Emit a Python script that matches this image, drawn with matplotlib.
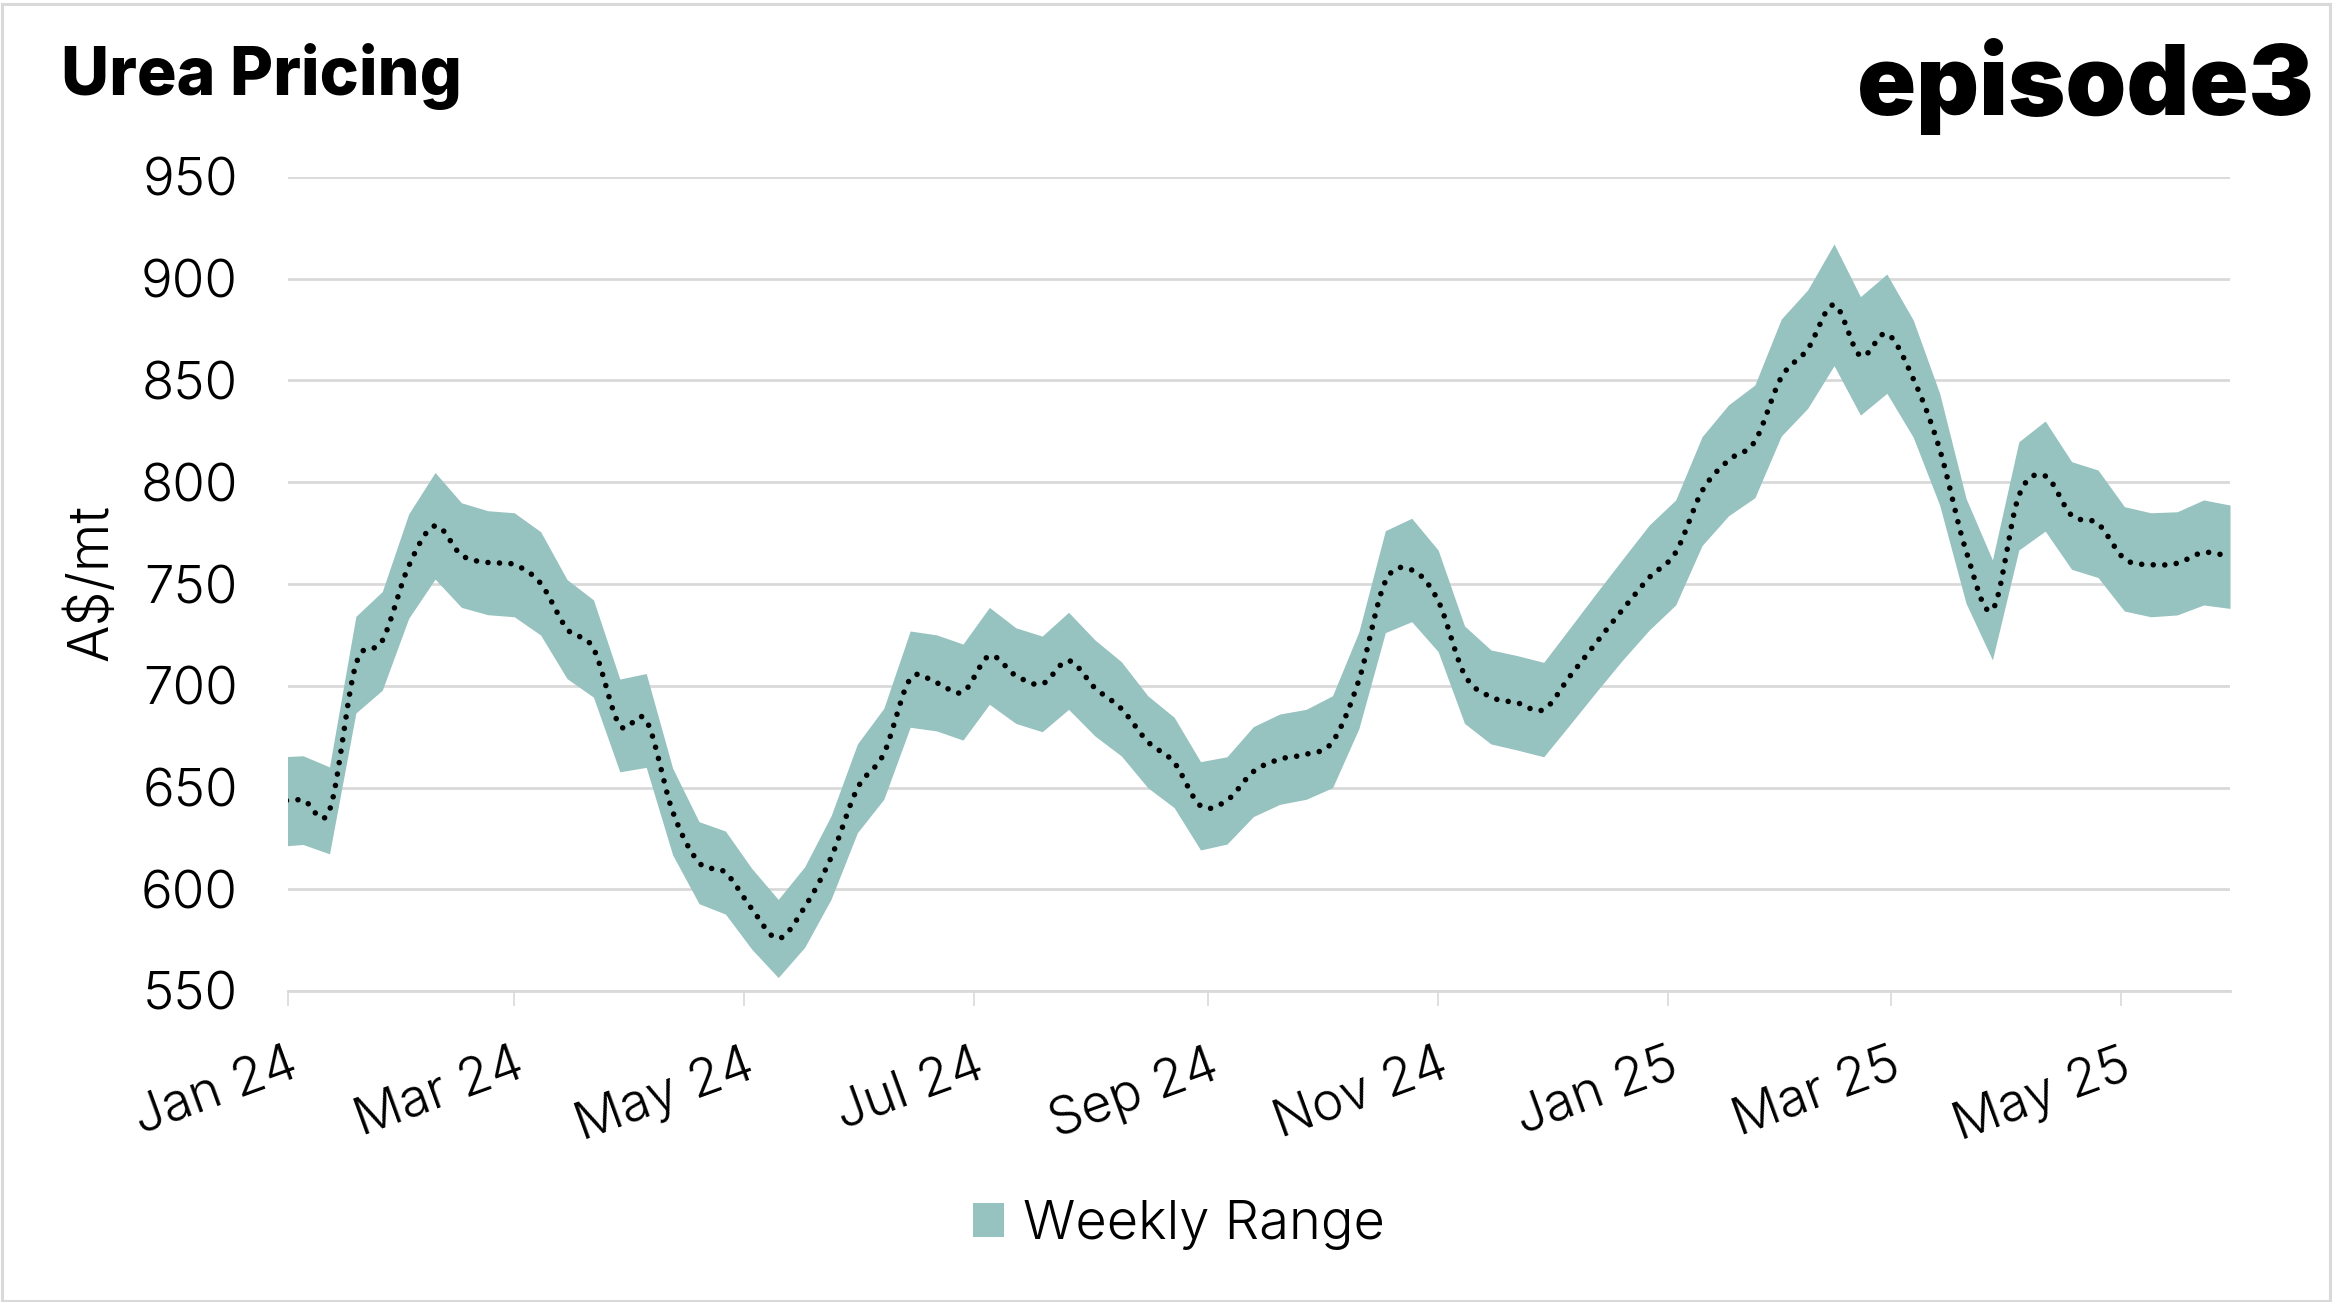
import matplotlib
matplotlib.use("Agg")
import matplotlib.pyplot as plt
import matplotlib.dates as mdates
from matplotlib.patches import Patch, Rectangle
import numpy as np
import pandas as pd

# ---------------- data (weekly, Fridays) ----------------
week_dates = pd.date_range("2023-12-29", periods=75, freq="7D")

range_high = [665, 665.6, 660.1, 734.1, 746.3, 784.4, 804.8, 789.9, 786.0, 785.0,
              775.7, 752.2, 742.2, 703.3, 706.0, 659.5, 633.2, 628.6, 610.2, 595.0,
              611.0, 636.0, 671.4, 688.9, 726.9, 725.0, 720.5, 738.5, 728.5, 724.4,
              736.1, 722.5, 711.8, 695.1, 684.5, 662.7, 665.1, 679.9, 686.1, 688.4,
              695.1, 726.6, 776.2, 782.3, 766.7, 729.4, 717.6, 714.8, 711.5, 728.5,
              745.6, 762.4, 779.0, 791.3, 822.4, 838.0, 847.8, 880.2, 894.5, 917.1,
              891.2, 902.3, 879.7, 843.7, 792.1, 761.8, 819.9, 830.1, 810.1, 806.0,
              788.0, 785.0, 785.5, 791.3, 788.8]

range_low = [621, 622.0, 617.4, 686.6, 697.8, 733.1, 752.4, 738.5, 734.9, 733.9,
             724.9, 703.5, 694.4, 657.7, 659.9, 616.9, 592.9, 587.8, 570.5, 556.6,
             571.4, 595.0, 627.8, 644.2, 679.6, 677.8, 673.3, 690.9, 681.5, 677.4,
             688.4, 675.3, 665.5, 649.9, 640.1, 619.3, 622.2, 635.7, 641.7, 644.2,
             649.9, 679.0, 726.1, 731.5, 716.8, 681.5, 671.4, 668.4, 665.1, 681.0,
             697.1, 712.8, 727.4, 739.7, 768.9, 783.5, 792.4, 822.7, 836.3, 857.3,
             833.0, 843.7, 822.1, 788.8, 740.5, 712.7, 766.7, 776.0, 757.2, 753.2,
             736.7, 733.9, 734.8, 739.7, 738.0]

average = [643.0, 643.8, 638.8, 710.4, 722.1, 758.8, 778.6, 764.2, 760.5, 759.5,
           750.3, 727.9, 718.3, 680.5, 683.0, 638.2, 613.1, 608.2, 590.4, 575.8,
           591.2, 615.5, 649.6, 666.6, 703.3, 701.4, 696.9, 714.7, 705.0, 700.9,
           712.3, 698.9, 688.7, 672.5, 662.3, 641.0, 643.7, 657.8, 663.9, 666.3,
           672.5, 702.8, 751.2, 756.9, 741.8, 705.5, 694.5, 691.6, 688.3, 704.8,
           721.4, 737.6, 753.2, 765.5, 795.7, 810.8, 820.1, 851.5, 865.4, 887.2,
           862.1, 873.0, 850.9, 816.3, 766.3, 737.3, 793.3, 803.1, 783.7, 779.6,
           762.4, 759.5, 760.2, 765.5, 763.4]

y_ticks = [550, 600, 650, 700, 750, 800, 850, 900, 950]
x_tick_dates = pd.date_range("2024-01-01", "2025-05-01", freq="2MS")

TEAL = "#96C2C0"
GRID = "#D9D9D9"
LIGHT = 300
FS = 38

plt.rcParams["font.family"] = ["Inter", "DejaVu Sans"]

fig = plt.figure(figsize=(23.42, 13.02), dpi=100)
W, H = 2342, 1302
ax = fig.add_axes([288 / W, 1 - 991 / H, (2230 - 288) / W, (991 - 177) / H])

xnum = mdates.date2num(week_dates.to_pydatetime())
ax.fill_between(xnum, range_low, range_high, color=TEAL, linewidth=0, zorder=2)


def smooth(x, y, n=16):
    P = np.column_stack([x, y]).astype(float)
    P = np.vstack([P[0], P, P[-1]])
    out = []
    t = np.linspace(0, 1, n, endpoint=False)[:, None]
    for i in range(1, len(P) - 2):
        p0, p1, p2, p3 = P[i - 1], P[i], P[i + 1], P[i + 2]
        c1 = p1 + (p2 - p0) / 6
        c2 = p2 - (p3 - p1) / 6
        seg = (1 - t) ** 3 * p1 + 3 * (1 - t) ** 2 * t * c1 + 3 * (1 - t) * t ** 2 * c2 + t ** 3 * p2
        out.append(seg)
    out.append(P[-2][None, :])
    out = np.vstack(out)
    return out[:, 0], out[:, 1]


sx, sy = smooth(xnum, average)
ax.plot(sx, sy, color="black", linewidth=4.0, linestyle=(0, (0.01, 2.07)),
        dash_capstyle="round", solid_capstyle="round", zorder=3)

ax.set_xlim(mdates.date2num(pd.Timestamp("2024-01-01")), mdates.date2num(pd.Timestamp("2025-05-30")))
ax.set_ylim(550, 950)
ax.set_yticks(y_ticks)
ax.set_yticklabels([str(v) for v in y_ticks])
ax.set_xticks(mdates.date2num(x_tick_dates.to_pydatetime()))
ax.set_xticklabels([d.strftime("%b %y") for d in x_tick_dates])

for s in ["top", "right", "left"]:
    ax.spines[s].set_visible(False)
ax.spines["bottom"].set_color(GRID)
ax.spines["bottom"].set_linewidth(2)
ax.spines["bottom"].set_zorder(1)
ax.grid(axis="y", color=GRID, linewidth=2, zorder=0)
ax.set_axisbelow(True)

ax.tick_params(axis="y", length=0, pad=36, labelsize=FS, labelcolor="black")
ax.tick_params(axis="x", length=11, width=1.2, color=GRID, pad=25, labelsize=FS,
               labelcolor="black")
for lab in ax.get_yticklabels():
    lab.set_fontweight(LIGHT)
for lab in ax.get_xticklabels():
    lab.set_rotation(20)
    lab.set_ha("right")
    lab.set_va("top")
    lab.set_rotation_mode("anchor")
    lab.set_fontweight(LIGHT)

fig.text(92 / W, 1 - 583 / H, "A$/mt", rotation=90, ha="center", va="center",
         fontsize=40, fontweight=LIGHT)

title = fig.text(61 / W, 1 - 95 / H, "Urea Pricing", fontsize=45, fontweight=800,
                 ha="left", va="baseline")
logo = fig.text(2314 / W, 1 - 115 / H, "episode3", fontsize=80, fontweight=900,
                ha="right", va="baseline")
fig.canvas.draw()
title.set_fontsize(45 * 401 / title.get_window_extent().width)
logo.set_fontsize(80 * 456 / logo.get_window_extent().width)

leg = fig.legend(handles=[Patch(facecolor=TEAL, edgecolor="none", label="Weekly Range")],
                 loc="center", bbox_to_anchor=(1179 / W, 1 - 1225 / H), frameon=False,
                 fontsize=39, handlelength=0.57, handleheight=0.57, handletextpad=0.35)
for t in leg.get_texts():
    t.set_fontweight(LIGHT)

fig.patches.append(Rectangle((1.5 / W, 1.5 / H), (2330 - 1.5) / W, (1298 - 1.5) / H,
                             transform=fig.transFigure, fill=False, edgecolor=GRID,
                             linewidth=2.2))

fig.savefig("out.png", dpi=100, facecolor="white")
